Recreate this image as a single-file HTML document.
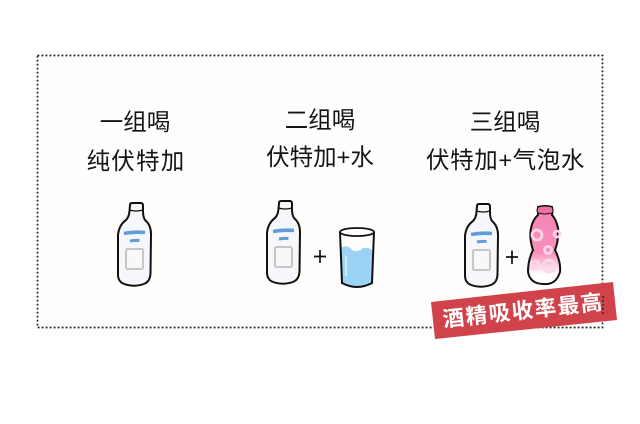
<!DOCTYPE html>
<html><head><meta charset="utf-8"><style>
html,body{margin:0;padding:0;background:#fff}
svg{display:block}
text{font-family:"Liberation Sans","Noto Sans CJK SC",sans-serif}
.t{font-size:23.5px;fill:#141414;text-anchor:middle}
</style></head><body>
<svg width="640" height="424" viewBox="0 0 640 424" xmlns="http://www.w3.org/2000/svg">
<defs>
<linearGradient id="pk" x1="0" y1="0" x2="0" y2="1"><stop offset="0" stop-color="#f584b3"/><stop offset=".6" stop-color="#f78fbd"/><stop offset=".88" stop-color="#fff"/></linearGradient>
<g id="b">
<path d="M14 0 L23 0 Q25 0 25 3 L25 8 Q25 14 27 17 Q33 22 33 31 L32.500 71 Q32 78 27 80.500 Q16 85 5 80.500 Q0 78 0 72 L0 32 Q1 22 8 17 Q11 14 11.500 8 L12 2 Q12 0 14 0Z" fill="#f6f7fa" stroke="#111" stroke-width="2"/>
<path d="M11.500 7 Q18 9 25 7" fill="none" stroke="#111" stroke-width="1.300"/>
<path d="M6 30.500 Q16 28.500 27 29.500" fill="none" stroke="#5f9cdc" stroke-width="3.600"/>
<path d="M12 38 Q17 37 21.500 37.500" fill="none" stroke="#5f9cdc" stroke-width="3"/>
<rect x="8" y="46" width="17" height="20" rx="1.500" fill="#f8f8f8" stroke="#c6c6c6" stroke-width="2"/>
</g>
</defs>
<rect width="640" height="424" fill="#fff"/>
<rect x="37.500" y="55.500" width="565" height="272" fill="#fffefc" stroke="#1a1a1a" stroke-width="1.700" stroke-dasharray="1.800 2.200"/>
<text class="t" x="135" y="130">一组喝</text>
<text class="t" x="136" y="169" letter-spacing="1.200">纯伏特加</text>
<text class="t" x="320" y="128">二组喝</text>
<text class="t" x="320" y="165">伏特加+水</text>
<text class="t" x="505" y="130">三组喝</text>
<text class="t" x="505.500" y="168" letter-spacing=".6">伏特加+气泡水</text>
<use href="#b" x="118" y="203"/>
<use href="#b" x="267" y="201"/>
<use href="#b" x="465" y="204"/>
<path d="M314 256.500 H326 M320 250 V263 M506 257 H518 M512 250.500 V264" stroke="#111" stroke-width="1.700" fill="none"/>
<path d="M341 248 Q347 244 352 250 Q358 253 363 248 Q369 247 373 251 L372 282 Q358 290 343 284Z" fill="#9bd3f5"/>
<path d="M340 232 L342 283 Q357 291 372 283 L374 232" fill="none" stroke="#111" stroke-width="2"/>
<ellipse cx="357" cy="232" rx="17" ry="4" fill="#fff" stroke="#111" stroke-width="1.800"/>
<path d="M346 256 V276" stroke="#e4f4fd" stroke-width="1.500"/>
<path d="M538 207 Q545 205 552 207 Q553 211 552 215 Q556 219 558 228 Q559 240 555 250 Q561 262 560 272 Q556 285 544 284 Q530 284 528 272 Q528 260 533 250 Q529 238 531 228 Q533 219 538 215Z" fill="url(#pk)" stroke="#111" stroke-width="2"/>
<path d="M538 207 Q545 205 552 207 Q554 211 552 213 Q545 215 538 213 Q536 211 538 207Z" fill="#ee6f9f" stroke="#111" stroke-width="1"/>
<g fill="none" stroke="#fcd5e6" stroke-width="2.800"><circle cx="537" cy="235" r="5"/><circle cx="548" cy="250" r="3.500"/><circle cx="557" cy="234" r="3"/><circle cx="549" cy="266" r="6"/><circle cx="535" cy="265" r="4"/></g>
<polygon points="431,302 613,282 617,320 435,339" fill="#d1434b"/>
<text transform="translate(524 318) rotate(-6.300)" text-anchor="middle" font-size="21.500" font-weight="700" letter-spacing="1.600" fill="#fff">酒精吸收率最高</text>
<path d="M603 296 V316" stroke="#1a1a1a" stroke-width="2" stroke-dasharray="2 2" opacity=".6"/>
</svg>
</body></html>
